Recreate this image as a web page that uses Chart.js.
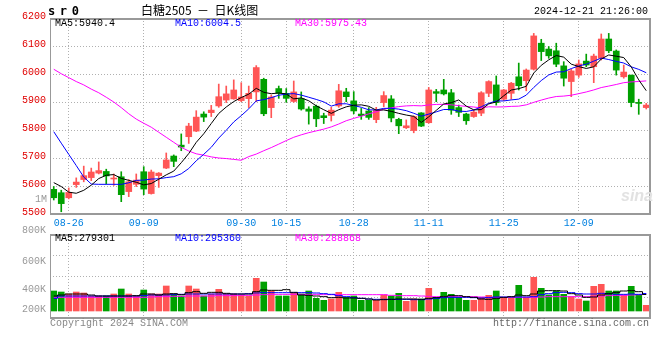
<!DOCTYPE html>
<html>
<head>
<meta charset="utf-8">
<script src="https://cdn.jsdelivr.net/npm/chart.js@4.4.1/dist/chart.umd.min.js"></script>
<style>
  html, body { margin:0; padding:0; background:#fff; }
  #wrap { position:relative; width:660px; height:360px; overflow:hidden; background:#fff; }
  #wrap canvas { position:absolute; left:0; }
  .t { position:absolute; white-space:pre; font-family:"Liberation Mono", monospace; font-size:10px; line-height:12px; }
</style>
</head>
<body>
<div id="wrap">
  <canvas id="pc" width="660" height="230" style="top:0px;"></canvas>
  <canvas id="vc" width="660" height="96" style="top:226px;"></canvas>
  <div class="t" style="left:48px;top:4px;font:bold 12px 'DejaVu Sans Mono';line-height:14px;letter-spacing:4.6px;color:#000;">sr0</div>
  <div class="t" style="left:141px;top:3px;font-family:'Noto Sans CJK SC';font-size:12px;line-height:14px;color:#000;">白糖2505  －  日K线图</div>
  <div class="t" style="right:12px;top:6px;color:#000;">2024-12-21 21:26:00</div>
  <div class="t" id="pl5" style="left:55px;top:18px;color:#000;"></div>
  <div class="t" id="pl10" style="left:175px;top:18px;color:#0000ff;"></div>
  <div class="t" id="pl30" style="left:295px;top:18px;color:#ff00ff;"></div>
  <div class="t" style="left:35px;top:194px;color:#999;">1M</div>
  <div class="t" id="vl5" style="left:55px;top:233px;color:#000;"></div>
  <div class="t" id="vl10" style="left:175px;top:233px;color:#0000ff;"></div>
  <div class="t" id="vl30" style="left:295px;top:233px;color:#ff00ff;"></div>
  <div class="t" style="left:50px;top:318px;color:#888;">Copyright 2024 SINA.COM</div>
  <div class="t" style="right:11px;top:318px;color:#666;">http://finance.sina.com.cn</div>
  <div style="position:absolute;left:621px;top:187px;font:italic bold 16px 'Liberation Sans';color:#e2e2e2;">sina</div>
</div>
<script>
// ---------------- DATA ----------------
const dates = ['08-22','08-23','08-26','08-27','08-28','08-29','08-30','09-02','09-03','09-04',
  '09-05','09-06','09-09','09-10','09-11','09-12','09-13','09-18','09-19','09-20',
  '09-23','09-24','09-25','09-26','09-27','09-30','10-08','10-09','10-10','10-11',
  '10-14','10-15','10-16','10-17','10-18','10-21','10-22','10-23','10-24','10-25',
  '10-28','10-29','10-30','10-31','11-01','11-04','11-05','11-06','11-07','11-08',
  '11-11','11-12','11-13','11-14','11-15','11-18','11-19','11-20','11-21','11-22',
  '11-25','11-26','11-27','11-28','11-29','12-02','12-03','12-04','12-05','12-06',
  '12-09','12-10','12-11','12-12','12-13','12-16','12-17','12-18','12-19','12-20'];

const tickLabels = ['08-26','09-09','09-30','10-15','10-28','11-11','11-25','12-09'];
const priceTicks = [5500, 5600, 5700, 5800, 5900, 6000, 6100, 6200];
const volTickLabels = ['800K', '600K', '400K', '200K'];

const open = [5588,5576,5558,5605,5623,5630,5646,5652,5625,5633,
  5580,5606,5651,5573,5637,5664,5707,5746,5776,5796,
  5857,5862,5886,5907,5911,5905,5912,5936,5981,5880,
  5948,5931,5902,5912,5875,5885,5851,5852,5886,5936,
  5904,5857,5868,5837,5898,5911,5838,5808,5798,5861,
  5826,5937,5943,5933,5880,5857,5848,5860,5931,5961,
  5910,5931,5990,5976,6017,6110,6089,6083,6029,5973,
  5996,6046,6026,6056,6125,6082,5990,5996,5898,5880];
const high = [5598,5585,5593,5629,5671,5664,5686,5660,5643,5651,
  5623,5643,5669,5657,5648,5718,5711,5786,5824,5869,
  5865,5888,5964,5957,5979,5969,5957,6030,5985,5925,
  5957,5948,5975,5936,5883,5889,5860,5881,5963,5949,
  5937,5877,5880,5881,5937,5923,5842,5836,5850,5862,
  5952,5945,5981,5945,5889,5860,5871,5937,5976,5993,
  5945,5970,6039,6018,6145,6124,6098,6110,6044,6017,
  6050,6071,6071,6143,6145,6086,6032,5996,5910,5895];
const low = [5550,5508,5554,5595,5615,5619,5643,5607,5602,5544,
  5562,5598,5569,5571,5595,5662,5669,5726,5752,5794,
  5830,5848,5881,5898,5910,5901,5880,5901,5851,5844,
  5913,5899,5899,5871,5821,5812,5823,5832,5881,5901,
  5858,5838,5838,5826,5883,5829,5787,5805,5790,5812,
  5824,5901,5925,5856,5848,5820,5845,5851,5919,5889,
  5905,5910,5943,5940,6014,6048,6056,6026,5957,5919,
  5988,6026,5969,6050,6076,5996,5985,5883,5856,5875];
const close = [5558,5537,5577,5614,5637,5650,5655,5636,5626,5569,
  5615,5621,5589,5650,5646,5693,5688,5739,5814,5846,
  5846,5871,5919,5929,5943,5918,5931,6023,5858,5918,
  5931,5913,5936,5875,5867,5840,5844,5871,5940,5919,
  5868,5851,5845,5871,5923,5843,5815,5815,5848,5814,
  5943,5931,5929,5871,5863,5833,5864,5933,5973,5898,
  5943,5967,5958,6014,6136,6080,6065,6035,5985,6011,
  6036,6032,6064,6125,6083,6014,6007,5898,5895,5889];

const ma5 = [5612,5598,5578,5574,5584.6,5603,5626.6,5638.4,5640.8,5627.2,
  5620.2,5613.4,5604,5608.8,5624.2,5639.8,5653.2,5683.2,5716,5756,
  5786.6,5823.2,5859.2,5882.2,5901.6,5916,5928,5948.8,5934.6,5929.6,
  5932.2,5928.6,5911.2,5914.6,5904.4,5886.2,5872.4,5859.4,5872.4,5882.8,
  5888.4,5889.8,5884.6,5870.8,5871.6,5866.6,5859.4,5853.4,5848.8,5827,
  5847,5870.2,5893,5897.6,5907.4,5885.4,5872,5872.8,5893.2,5900.2,
  5922.2,5942.8,5947.8,5956,6003.6,6031,6050.6,6066,6060.2,6035.2,
  6026.4,6019.8,6025.6,6053.6,6068,6063.6,6058.6,6025.4,5979,5940.4];
const ma10 = [5794,5753,5713,5673,5632,5607,5606,5606,5606,5605.9,
  5611.6,5620,5621.2,5624.8,5625.7,5630,5633.3,5643.6,5662.4,5690.1,
  5713.2,5738.2,5771.2,5799.1,5828.8,5851.3,5875.6,5904,5908.4,5915.6,
  5924.1,5928.3,5930,5924.6,5917,5909.2,5900.5,5885.3,5893.5,5893.6,
  5887.3,5881.1,5872,5871.6,5877.2,5877.5,5874.6,5869,5859.8,5849.3,
  5856.8,5864.8,5873.2,5873.2,5867.2,5866.2,5871.1,5882.9,5895.4,5903.8,
  5903.8,5907.4,5910.3,5924.6,5951.9,5976.6,5996.7,6006.9,6008.1,6019.4,
  6028.7,6035.2,6045.8,6056.9,6051.6,6045,6039.2,6025.5,6016.5,6004.5];
const ma30 = [6017,6001,5987,5973,5961,5946,5933,5917,5900,5880,
  5858,5839,5824,5810,5792,5774,5756,5738,5725,5715,
  5710,5704,5700,5698,5695,5692,5705,5714,5726,5737.2,
  5749.6,5762.2,5774.1,5782.8,5790.5,5796.8,5803.1,5811,5821.4,5833.1,
  5841.5,5849.2,5857.7,5865.1,5874.3,5879.3,5883.6,5886.1,5887.2,5886.2,
  5889.4,5891.4,5891.7,5889.8,5887.1,5884.3,5882.1,5879.1,5882.9,5882.2,
  5882.6,5884.4,5885.2,5889.8,5898.8,5906.8,5914.1,5919.6,5921.1,5924.2,
  5929.8,5935.8,5943.1,5951.6,5956.9,5962.6,5969,5971.8,5973.3,5975.43];

const volume = [338500,321600,287700,321600,304700,253900,253900,253900,287700,372400,
  287700,253900,355400,287700,287700,423200,287700,253900,423200,372400,
  253900,287700,366700,287700,287700,270800,253900,552900,490900,338500,
  253900,253900,299000,287700,338500,214400,180500,203100,316000,231300,
  253900,180500,180500,180500,270800,253900,299000,163600,203100,203100,
  383700,231300,316000,282100,231300,180500,180500,231300,265200,338500,
  225700,225700,434400,225700,569800,383700,270800,338500,282100,242600,
  203100,169300,417500,451400,338500,338500,270800,417500,270800,95900];
const vma5 = [253900,270800,287700,287700,287700,270800,253900,253900,253900,253900,
  253900,259500,287700,287700,270800,287700,293400,276500,310300,327200,
  299000,316000,316000,299000,287700,287700,287700,327200,355400,349800,
  349800,361100,316000,270800,265200,253900,242600,225700,231300,220000,
  220000,214400,203100,186200,191800,197500,203100,203100,203100,197500,
  214400,225700,242600,259500,259500,242600,231300,203100,197500,214400,
  231300,242600,270800,259500,287700,338500,344200,344200,338500,293400,
  270800,231300,237000,270800,293400,316000,338500,344200,327200,279301];
const vma10 = [214400,253900,253900,253900,253900,253900,253900,253900,253900,253900,
  253900,253900,259500,270800,270800,270800,276500,282100,287700,287700,
  287700,287700,287700,287700,287700,287700,293400,304700,310300,310300,
  310300,310300,310300,310300,310300,304700,293400,282100,259500,242600,
  225700,214400,203100,197500,197500,197500,197500,197500,191800,191800,
  203100,214400,225700,231300,231300,231300,225700,220000,225700,237000,
  237000,237000,237000,237000,242600,276500,293400,310300,316000,310300,
  293400,287700,287700,299000,293400,282100,282100,287700,282100,295360];
const vma30 = [231300,231300,231300,231300,231300,231300,231300,231300,231300,231300,
  231300,231300,231300,237000,242600,242600,248200,248200,253900,253900,
  253900,253900,259500,259500,259500,265200,265200,270800,276500,282100,
  282100,282100,282100,282100,282100,282100,276500,276500,276500,276500,
  276500,276500,276500,276500,276500,265200,259500,259500,259500,253900,
  248200,242600,242600,242600,242600,242600,242600,237000,231300,231300,
  231300,231300,231300,231300,231300,237000,242600,242600,242600,242600,
  242600,242600,248200,253900,259500,265200,265200,270800,276500,288868];

// ---------------- STYLE / LAYOUT ----------------
const RED = '#ff5555', GREEN = '#00a000';
const GRID = '#b0b0b0', FRAME = '#999999';
const MONO = 'Liberation Mono';
const candleColors = close.map((c, i) => (c >= open[i] ? RED : GREEN));
const last = a => a[a.length - 1];

document.getElementById('pl5').textContent = 'MA5:' + last(ma5);
document.getElementById('pl10').textContent = 'MA10:' + last(ma10);
document.getElementById('pl30').textContent = 'MA30:' + last(ma30);
document.getElementById('vl5').textContent = 'MA5:' + last(vma5);
document.getElementById('vl10').textContent = 'MA10:' + last(vma10);
document.getElementById('vl30').textContent = 'MA30:' + last(vma30);

const wrap = document.getElementById('wrap');
const volLabelCenters = [231, 262, 290, 310];
volTickLabels.forEach((s, j) => {
  const d = document.createElement('div');
  d.className = 't';
  d.style.cssText = 'left:0px;width:46px;text-align:right;color:#999;top:' + (volLabelCenters[j] - 6) + 'px;';
  d.textContent = s;
  wrap.appendChild(d);
});

const framePlugin = {
  id: 'frame',
  afterDraw(chart) {
    const { ctx, chartArea: a } = chart;
    const L = Math.round(a.left), T = Math.round(a.top), R = Math.round(a.right), B = Math.round(a.bottom);
    ctx.save();
    ctx.fillStyle = FRAME;
    ctx.fillRect(L, T, R - L + 1, 2);      // top
    ctx.fillRect(L, B - 1, R - L + 1, 2);  // bottom
    ctx.fillRect(R - 1, T, 2, B - T + 1);  // right
    ctx.fillRect(L, T, 1, B - T + 1);      // left
    ctx.restore();
  }
};

const xGridColor = ctx => (tickLabels.includes(dates[ctx.index]) ? GRID : 'rgba(0,0,0,0)');

function lineDs(data, color, stepped) {
  return { type: 'line', data, borderColor: color, borderWidth: 1, pointRadius: 0,
           tension: 0, fill: false, order: 0, stepped: stepped || false };
}

Chart.defaults.font.family = MONO;

new Chart(document.getElementById('pc'), {
  type: 'bar',
  data: {
    labels: dates,
    datasets: [
      lineDs(ma5, '#000000'),
      lineDs(ma10, '#0000ff'),
      lineDs(ma30, '#ff00ff'),
      { type: 'bar', data: open.map((o, i) => [o, close[i]]), backgroundColor: candleColors,
        barThickness: 6, minBarLength: 1, grouped: false, order: 2 },
      { type: 'bar', data: low.map((l, i) => [l, high[i]]), backgroundColor: candleColors,
        barThickness: 1, grouped: false, order: 3 }
    ]
  },
  options: {
    responsive: false, animation: false, events: [],
    layout: { padding: { top: 18, right: 10, left: 0, bottom: 0 } },
    plugins: { legend: { display: false }, tooltip: { enabled: false } },
    scales: {
      x: {
        offset: true,
        grid: { offset: false, drawTicks: false, color: xGridColor, lineWidth: 1 },
        border: { display: false, dash: [1, 2] },
        ticks: { autoSkip: false, maxRotation: 0, minRotation: 0, padding: 3, color: '#0080e0',
                 font: { family: MONO, size: 10 },
                 callback: (v, i) => (tickLabels.includes(dates[i]) ? dates[i] : '') },
        afterFit: s => { s.height = 16; }
      },
      y: {
        min: priceTicks[0], max: last(priceTicks),
        afterBuildTicks: s => { s.ticks = priceTicks.map(v => ({ value: v })); },
        grid: { drawTicks: false, color: GRID, lineWidth: 1 },
        border: { display: false, dash: [1, 2] },
        ticks: { padding: 4, labelOffset: -2, color: '#e00000', font: { family: MONO, size: 10 },
                 callback: v => String(v) },
        afterFit: s => { s.width = 50; }
      }
    }
  },
  plugins: [framePlugin]
});

const VMIN = -118500, VMAX = 1303400;
new Chart(document.getElementById('vc'), {
  type: 'bar',
  data: {
    labels: dates,
    datasets: [
      lineDs(vma5, '#000000', 'middle'),
      lineDs(vma10, '#0000ff', 'middle'),
      lineDs(vma30, '#ff00ff', 'middle'),
      { type: 'bar', data: volume, backgroundColor: candleColors, barThickness: 6, grouped: false, order: 2 }
    ]
  },
  options: {
    responsive: false, animation: false, events: [],
    layout: { padding: { top: 8, right: 10, left: 0, bottom: 0 } },
    plugins: { legend: { display: false }, tooltip: { enabled: false } },
    scales: {
      x: {
        offset: true,
        grid: { offset: false, drawTicks: false, color: xGridColor, lineWidth: 1 },
        border: { display: false, dash: [1, 2] },
        ticks: { display: false, autoSkip: false },
        afterFit: s => { s.height = 4; }
      },
      y: {
        min: VMIN, max: VMAX,
        afterBuildTicks: s => { s.ticks = [0, 1, 2, 3, 4].map(j => ({ value: VMIN + j * (VMAX - VMIN) / 4 })); },
        grid: { drawTicks: false, color: GRID, lineWidth: 1 },
        border: { display: false, dash: [1, 2] },
        ticks: { display: false },
        afterFit: s => { s.width = 50; }
      }
    }
  },
  plugins: [framePlugin]
});
</script>
</body>
</html>
